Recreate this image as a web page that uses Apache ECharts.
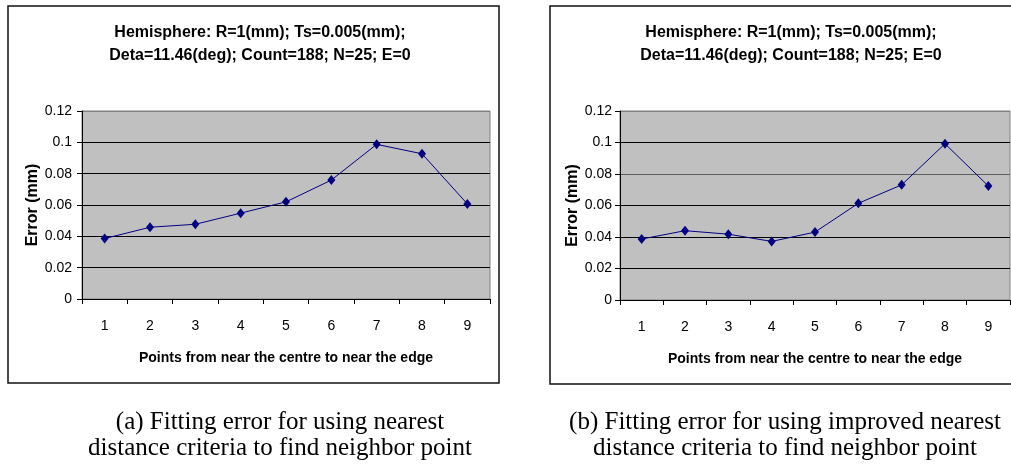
<!DOCTYPE html>
<html>
<head>
<meta charset="utf-8">
<script src="https://cdn.jsdelivr.net/npm/echarts@6/dist/echarts.min.js"></script>
<style>
html,body{margin:0;padding:0;background:#fff;}
#main{width:1011px;height:465px;}
</style>
</head>
<body>
<div id="main"></div>
<script>
// ---- data ----
const categories = ['1','2','3','4','5','6','7','8','9'];
const errorNearest = [0.0386, 0.0458, 0.0477, 0.0548, 0.0620, 0.0759, 0.0987, 0.0927, 0.0607];
const errorImproved = [0.0387, 0.0440, 0.0418, 0.0372, 0.0431, 0.0614, 0.0731, 0.0992, 0.0724];
const chartTitle = 'Hemisphere: R=1(mm); Ts=0.005(mm);\nDeta=11.46(deg); Count=188; N=25; E=0';
const xName = 'Points from near the centre to near the edge';
const yName = 'Error (mm)';
const captionA = ['(a) Fitting error for using nearest', 'distance criteria to find neighbor point'];
const captionB = ['(b) Fitting error for using improved nearest', 'distance criteria to find neighbor point'];
const yMin = 0, yMax = 0.12, yStep = 0.02;

const sans = '"Liberation Sans", Arial, sans-serif';
const serif = '"Liberation Serif", "Times New Roman", serif';

function xAxisCfg(gridIndex) {
  return {
    type: 'category', gridIndex: gridIndex, data: categories, boundaryGap: true,
    axisLine: {lineStyle: {color: '#000', width: 1}},
    axisTick: {show: true, length: 5, lineStyle: {color: '#000'}},
    axisLabel: {color: '#000', fontFamily: sans, fontSize: 14, margin: 20},
    splitLine: {show: false},
    name: xName, nameLocation: 'middle', nameGap: 52,
    nameTextStyle: {color: '#000', fontFamily: sans, fontWeight: 'bold', fontSize: 14}
  };
}
function yAxisCfg(gridIndex, gridColors, labelMargin, nameGap) {
  return {
    type: 'value', gridIndex: gridIndex, min: yMin, max: yMax, interval: yStep,
    axisLine: {show: true, lineStyle: {color: '#000', width: 1}},
    axisTick: {show: true, length: 5, lineStyle: {color: '#000'}},
    axisLabel: {color: '#000', fontFamily: sans, fontSize: 14, margin: labelMargin},
    splitLine: {show: true, lineStyle: {color: gridColors, width: 1}},
    name: yName, nameLocation: 'middle', nameGap: nameGap,
    nameTextStyle: {color: '#000', fontFamily: sans, fontWeight: 'bold', fontSize: 16}
  };
}
function seriesCfg(idx, values) {
  return {
    type: 'line', xAxisIndex: idx, yAxisIndex: idx, data: values,
    symbol: 'diamond', symbolSize: [8, 10],
    lineStyle: {color: '#000080', width: 1},
    itemStyle: {color: '#000080'},
    animation: false, z: 5
  };
}
function captionText(lines, cx) {
  return lines.map((t, i) => ({
    type: 'text', x: cx, y: 422 + i * 26,
    style: {text: t, font: '25px ' + serif, fill: '#000', align: 'center', verticalAlign: 'middle'}
  }));
}

const chart = echarts.init(document.getElementById('main'), null, {renderer: 'canvas'});
chart.setOption({
  animation: false,
  backgroundColor: '#fff',
  title: [
    {text: chartTitle, left: 255, top: 16, textAlign: 'center',
     textStyle: {fontFamily: sans, fontWeight: 'bold', fontSize: 16, color: '#000', lineHeight: 23}},
    {text: chartTitle, left: 786, top: 16, textAlign: 'center',
     textStyle: {fontFamily: sans, fontWeight: 'bold', fontSize: 16, color: '#000', lineHeight: 23}}
  ],
  grid: [
    {left: 82, top: 111, width: 408, height: 188, show: true, backgroundColor: '#c0c0c0', borderColor: '#808080', borderWidth: 1},
    {left: 620, top: 111, width: 390, height: 189, show: true, backgroundColor: '#c0c0c0', borderColor: '#808080', borderWidth: 1}
  ],
  xAxis: [xAxisCfg(0), xAxisCfg(1)],
  yAxis: [
    yAxisCfg(0, ['#000','#000','#000','#000','#000','#000','#808080'], 10, 41),
    yAxisCfg(1, ['#000','#000','#000','#000','#606060','#000','#808080'], 8, 39)
  ],
  series: [seriesCfg(0, errorNearest), seriesCfg(1, errorImproved)],
  graphic: [
    {type: 'rect', shape: {x: 8, y: 6, width: 491, height: 377}, style: {fill: 'none', stroke: '#111', lineWidth: 1.5}, silent: true},
    {type: 'rect', shape: {x: 550, y: 6, width: 470, height: 378}, style: {fill: 'none', stroke: '#111', lineWidth: 1.5}, silent: true}
  ].concat(captionText(captionA, 280), captionText(captionB, 785))
});
</script>
</body>
</html>
